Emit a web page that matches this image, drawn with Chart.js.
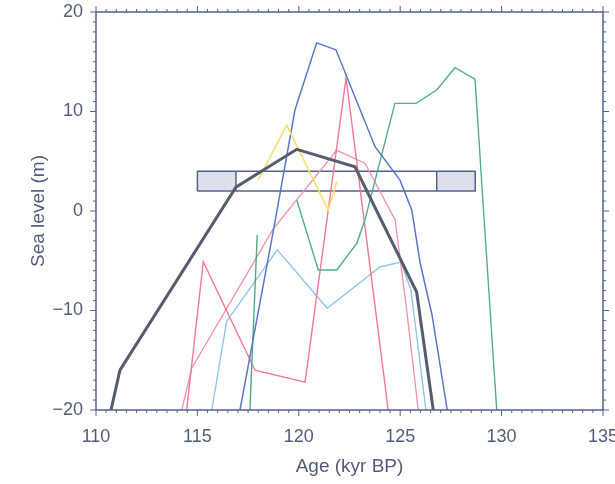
<!DOCTYPE html>
<html lang="en">
<head>
  <meta charset="UTF-8" />
  <title>Sea level – Last Interglacial</title>
  <script src="https://cdn.jsdelivr.net/npm/chart.js@4.4.0/dist/chart.umd.min.js"></script>
  <style>
    html,body{margin:0;padding:0;background:#fff}
    #wrap{position:relative;width:615px;height:484px}
  </style>
</head>
<body>
<div id="wrap"><canvas id="slChart" width="615" height="484"></canvas></div>
<script>
/* axis ranges */
const AGE_MIN=110, AGE_MAX=135, SL_MIN=-20, SL_MAX=20;

/* reconstructions: age (kyr BP) / sea level (m) */
const grayAge   = [110.74, 111.18, 116.9, 119.9, 122.77, 125.81, 126.63];
const graySL    = [-20, -16, 2.4, 6.2, 4.45, -8.14, -20];
const blueAge   = [117.1, 118.78, 119.81, 120.88, 121.83, 123.76, 124.99, 125.57, 125.98, 126.57, 127.32];
const blueSL    = [-20, -1.6, 10.15, 16.9, 16.2, 6.46, 3.1, 0.1, -5.2, -10.45, -20];
const pinkAAge  = [114.47, 115.29, 117.84, 120.31, 122.33, 124.41];
const pinkASL   = [-20, -5.1, -16, -17.2, 13.37, -20];
const pinkBAge  = [114.23, 114.72, 118.74, 121.87, 123.26, 124.75, 125.32, 125.89];
const pinkBSL   = [-20, -15.8, -1.8, 6.1, 4.8, -0.9, -9.95, -20];
const lightAge  = [115.71, 116.44, 118.94, 121.4, 124.0, 125.04, 125.53, 126.27];
const lightSL   = [-20, -11.1, -3.9, -9.78, -5.63, -5.13, -7.94, -20];
const greenAge  = [119.9, 120.96, 121.87, 122.86, 123.26, 124.74, 125.78, 126.8, 127.7, 128.69, 129.13, 129.76];
const greenSL   = [1.1, -5.93, -5.93, -3.25, -0.9, 10.82, 10.82, 12.16, 14.4, 13.24, -0.57, -20];
const green2Age = [117.95, 117.59];
const green2SL  = [-2.41, -20];
const yellowAge = [118.0, 119.4, 121.45, 121.87];
const yellowSL  = [3.12, 8.64, 0.1, 2.94];

/* interglacial bar: age edges (outer, inner, inner, outer) and level range */
const boxAge = [115.0, 116.9, 126.8, 128.7];
const boxSL  = [2, 4];

const INK='#56618a', TXT='#535c78';
const pts=(xs,ys)=>xs.map((x,i)=>({x,y:ys[i]}));
const line=(xs,ys,color,w,order)=>({data:pts(xs,ys),borderColor:color,borderWidth:w,
  pointRadius:0,fill:false,tension:0,order});

const datasets=[
  // shaded ends of the bar
  {data:pts([boxAge[0],boxAge[1]],[boxSL[1],boxSL[1]]),borderWidth:0,pointRadius:0,
   fill:{value:boxSL[0]},backgroundColor:'#dde0ea',order:20},
  {data:pts([boxAge[2],boxAge[3]],[boxSL[1],boxSL[1]]),borderWidth:0,pointRadius:0,
   fill:{value:boxSL[0]},backgroundColor:'#dde0ea',order:20},
  line([boxAge[0],boxAge[0],boxAge[3],boxAge[3],boxAge[0]],[boxSL[0],boxSL[1],boxSL[1],boxSL[0],boxSL[0]],INK,1.5,19),
  line([boxAge[1],boxAge[1]],boxSL,INK,1.5,19),
  line([boxAge[2],boxAge[2]],boxSL,INK,1.5,19),
  // curves
  line(lightAge,lightSL,'#8ec6ec',1.4,8),
  line(pinkAAge,pinkASL,'#f27896',1.4,7),
  line(pinkBAge,pinkBSL,'#f590a8',1.3,7),
  line(green2Age,green2SL,'#4fa985',1.4,6),
  line(greenAge,greenSL,'#52ad8f',1.4,6),
  line(blueAge,blueSL,'#5a78c9',1.5,5),
  line(yellowAge,yellowSL,'#f3e36a',1.6,4),
  line(grayAge,graySL,'#585d6e',3,1)
];

/* frame with minor/major ticks on all four sides */
const framePlugin={
  id:'frameTicks',
  afterDraw(c){
    const {ctx,chartArea:a,scales:{x,y}}=c;
    ctx.save();
    ctx.strokeStyle=INK; ctx.lineWidth=1.5;
    ctx.strokeRect(a.left,a.top,a.right-a.left,a.bottom-a.top);
    ctx.lineWidth=1;
    ctx.beginPath();
    for(let v=AGE_MIN;v<=AGE_MAX+1e-9;v+=0.5){
      const px=x.getPixelForValue(v), len=(Math.abs(v%5)<1e-9)?6:3;
      ctx.moveTo(px,a.bottom); ctx.lineTo(px,a.bottom+len);
      ctx.moveTo(px,a.top); ctx.lineTo(px,a.top-len);
    }
    for(let v=SL_MIN;v<=SL_MAX;v+=1){
      const py=y.getPixelForValue(v), len=(v%10===0)?6:3;
      ctx.moveTo(a.left,py); ctx.lineTo(a.left-len,py);
      ctx.moveTo(a.right,py); ctx.lineTo(a.right+len,py);
    }
    ctx.stroke();
    ctx.restore();
  }
};

const FONT='"Liberation Sans", Arial, sans-serif';
new Chart(document.getElementById('slChart'),{
  type:'line',
  data:{datasets},
  options:{
    responsive:false,animation:false,
    layout:{autoPadding:false,padding:{top:12,right:12,left:0,bottom:0}},
    plugins:{legend:{display:false},tooltip:{enabled:false}},
    scales:{
      x:{type:'linear',min:AGE_MIN,max:AGE_MAX,
        grid:{display:false,drawTicks:false},border:{display:false},
        ticks:{stepSize:5,padding:16,color:TXT,font:{family:FONT,size:18}},
        title:{display:true,text:'Age (kyr BP)',color:TXT,font:{family:FONT,size:19},padding:{top:0,bottom:6}},
        afterFit(s){s.height=74;s.paddingLeft=0;s.paddingRight=0;}},
      y:{type:'linear',min:SL_MIN,max:SL_MAX,
        grid:{display:false,drawTicks:false},border:{display:false},
        ticks:{stepSize:10,padding:13,color:TXT,font:{family:FONT,size:18},
          callback:v=>v<0?'\u2212'+Math.abs(v):String(v)},
        title:{display:true,text:'Sea level (m)',color:TXT,font:{family:FONT,size:19},padding:{top:27,bottom:0}},
        afterFit(s){s.width=96;s.paddingTop=0;s.paddingBottom=0;}}
    }
  },
  plugins:[framePlugin]
});
</script>
</body>
</html>
